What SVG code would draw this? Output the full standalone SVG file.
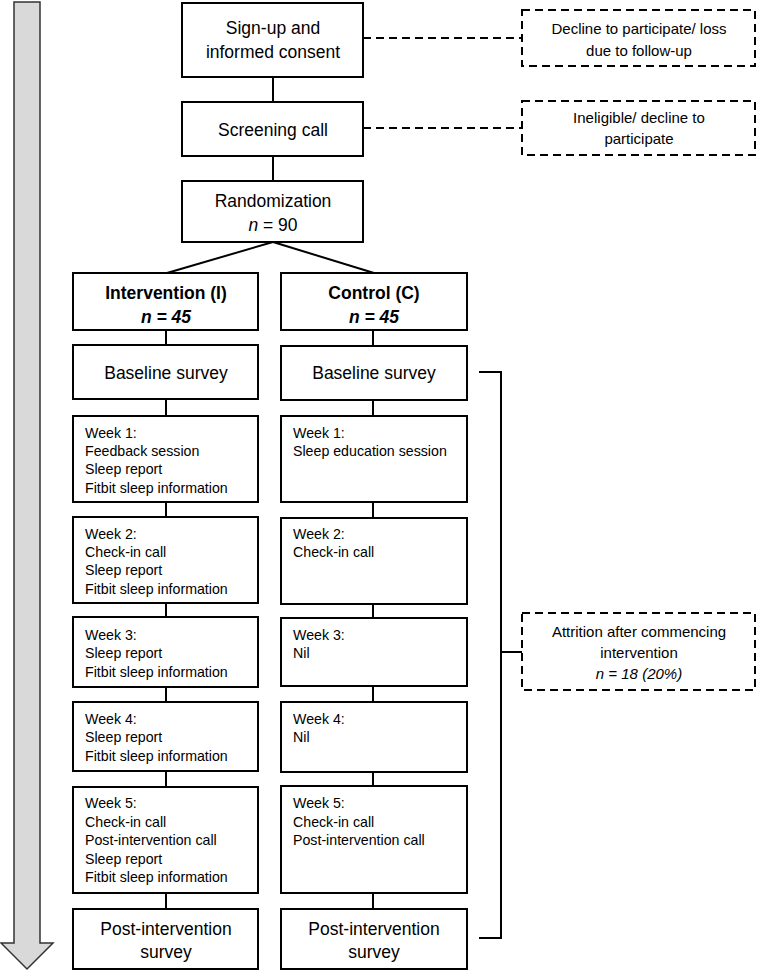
<svg xmlns="http://www.w3.org/2000/svg" width="757" height="971" viewBox="0 0 757 971">
<style>
.box{fill:#fff;stroke:#000;stroke-width:2}
.dbox{fill:#fff;stroke:#000;stroke-width:2;stroke-dasharray:8,5}
.ln{fill:none;stroke:#000;stroke-width:2}
.dln{fill:none;stroke:#000;stroke-width:2;stroke-dasharray:8,5}
.t{font-family:"Liberation Sans",Arial,sans-serif;font-size:17.5px;fill:#000;text-anchor:middle}
.b{font-weight:bold}
.s{font-family:"Liberation Sans",Arial,sans-serif;font-size:14.2px;fill:#000}
.d{font-family:"Liberation Sans",Arial,sans-serif;font-size:15px;fill:#000;text-anchor:middle}
</style>
<rect width="757" height="971" fill="#fff"/>
<g id="timeline">
<path d="M14,2 H40 V943 H53 L27,969 L1,943 H14 Z" fill="#d9d9d9" stroke="#333" stroke-width="1.5"/>
</g>
<g id="connectors">
<line class="ln" x1="273" y1="77" x2="273" y2="102"/>
<line class="ln" x1="273" y1="156" x2="273" y2="181"/>
<line class="ln" x1="273" y1="242" x2="167" y2="273"/>
<line class="ln" x1="273" y1="242" x2="374" y2="273"/>
<line class="dln" x1="363" y1="38" x2="522" y2="38"/>
<line class="dln" x1="363" y1="128" x2="522" y2="128"/>
<line class="ln" x1="166" y1="330" x2="166" y2="345"/>
<line class="ln" x1="166" y1="399" x2="166" y2="416"/>
<line class="ln" x1="166" y1="502" x2="166" y2="517"/>
<line class="ln" x1="166" y1="603" x2="166" y2="617"/>
<line class="ln" x1="166" y1="687" x2="166" y2="702"/>
<line class="ln" x1="166" y1="771" x2="166" y2="787"/>
<line class="ln" x1="166" y1="893" x2="166" y2="909"/>
<line class="ln" x1="373" y1="330" x2="373" y2="346"/>
<line class="ln" x1="373" y1="400" x2="373" y2="416"/>
<line class="ln" x1="373" y1="502" x2="373" y2="518"/>
<line class="ln" x1="373" y1="604" x2="373" y2="618"/>
<line class="ln" x1="373" y1="686" x2="373" y2="702"/>
<line class="ln" x1="373" y1="772" x2="373" y2="786"/>
<line class="ln" x1="373" y1="893" x2="373" y2="909"/>
<path class="ln" d="M479,372 H501 V938 H479"/>
<line class="ln" x1="501" y1="652" x2="522" y2="652"/>
</g>
<g id="signup">
<rect class="box" x="182" y="3" width="181" height="74"/>
<text class="t" x="273" y="34">Sign-up and</text>
<text class="t" x="273" y="58">informed consent</text>
</g>
<g id="screening">
<rect class="box" x="182" y="102" width="181" height="54"/>
<text class="t" x="273" y="136">Screening call</text>
</g>
<g id="randomization">
<rect class="box" x="182" y="181" width="181" height="61"/>
<text class="t" x="273" y="207">Randomization</text>
<text class="t" x="273" y="231"><tspan font-style="italic">n</tspan> = 90</text>
</g>
<g id="decline">
<rect class="dbox" x="522" y="10" width="233" height="56"/>
<text class="d" x="639" y="34">Decline to participate/ loss</text>
<text class="d" x="639" y="56">due to follow-up</text>
</g>
<g id="ineligible">
<rect class="dbox" x="522" y="101" width="233" height="54"/>
<text class="d" x="639" y="123">Ineligible/ decline to</text>
<text class="d" x="639" y="144">participate</text>
</g>
<g id="intervention">
<rect class="box" x="73" y="273" width="185" height="57"/>
<text class="t b" x="166" y="299">Intervention (I)</text>
<text class="t b" x="166" y="323" font-style="italic">n = 45</text>
</g>
<g id="control">
<rect class="box" x="281" y="273" width="186" height="57"/>
<text class="t b" x="374" y="299">Control (C)</text>
<text class="t b" x="374" y="323" font-style="italic">n = 45</text>
</g>
<g id="baseline-i">
<rect class="box" x="73" y="345" width="185" height="54"/>
<text class="t" x="166" y="379">Baseline survey</text>
</g>
<g id="baseline-c">
<rect class="box" x="281" y="346" width="186" height="54"/>
<text class="t" x="374" y="379">Baseline survey</text>
</g>
<g id="week1-i">
<rect class="box" x="73" y="416" width="185" height="86"/>
<text class="s" x="85" y="438">Week 1:</text>
<text class="s" x="85" y="456">Feedback session</text>
<text class="s" x="85" y="474">Sleep report</text>
<text class="s" x="85" y="493">Fitbit sleep information</text>
</g>
<g id="week1-c">
<rect class="box" x="281" y="416" width="186" height="86"/>
<text class="s" x="293" y="438">Week 1:</text>
<text class="s" x="293" y="456">Sleep education session</text>
</g>
<g id="week2-i">
<rect class="box" x="73" y="517" width="185" height="86"/>
<text class="s" x="85" y="539">Week 2:</text>
<text class="s" x="85" y="557">Check-in call</text>
<text class="s" x="85" y="575">Sleep report</text>
<text class="s" x="85" y="594">Fitbit sleep information</text>
</g>
<g id="week2-c">
<rect class="box" x="281" y="518" width="186" height="86"/>
<text class="s" x="293" y="539">Week 2:</text>
<text class="s" x="293" y="557">Check-in call</text>
</g>
<g id="week3-i">
<rect class="box" x="73" y="617" width="185" height="70"/>
<text class="s" x="85" y="640">Week 3:</text>
<text class="s" x="85" y="658">Sleep report</text>
<text class="s" x="85" y="677">Fitbit sleep information</text>
</g>
<g id="week3-c">
<rect class="box" x="281" y="618" width="186" height="68"/>
<text class="s" x="293" y="640">Week 3:</text>
<text class="s" x="293" y="658">Nil</text>
</g>
<g id="week4-i">
<rect class="box" x="73" y="702" width="185" height="69"/>
<text class="s" x="85" y="724">Week 4:</text>
<text class="s" x="85" y="742">Sleep report</text>
<text class="s" x="85" y="761">Fitbit sleep information</text>
</g>
<g id="week4-c">
<rect class="box" x="281" y="702" width="186" height="70"/>
<text class="s" x="293" y="724">Week 4:</text>
<text class="s" x="293" y="742">Nil</text>
</g>
<g id="week5-i">
<rect class="box" x="73" y="787" width="185" height="106"/>
<text class="s" x="85" y="808">Week 5:</text>
<text class="s" x="85" y="827">Check-in call</text>
<text class="s" x="85" y="845">Post-intervention call</text>
<text class="s" x="85" y="864">Sleep report</text>
<text class="s" x="85" y="882">Fitbit sleep information</text>
</g>
<g id="week5-c">
<rect class="box" x="281" y="786" width="186" height="107"/>
<text class="s" x="293" y="808">Week 5:</text>
<text class="s" x="293" y="827">Check-in call</text>
<text class="s" x="293" y="845">Post-intervention call</text>
</g>
<g id="post-i">
<rect class="box" x="73" y="909" width="185" height="60"/>
<text class="t" x="166" y="935">Post-intervention</text>
<text class="t" x="166" y="958">survey</text>
</g>
<g id="post-c">
<rect class="box" x="281" y="909" width="186" height="60"/>
<text class="t" x="374" y="935">Post-intervention</text>
<text class="t" x="374" y="958">survey</text>
</g>
<g id="attrition">
<rect class="dbox" x="522" y="613" width="233" height="77"/>
<text class="d" x="639" y="637">Attrition after commencing</text>
<text class="d" x="639" y="658">intervention</text>
<text class="d" x="639" y="679" font-style="italic">n = 18 (20%)</text>
</g>
</svg>
